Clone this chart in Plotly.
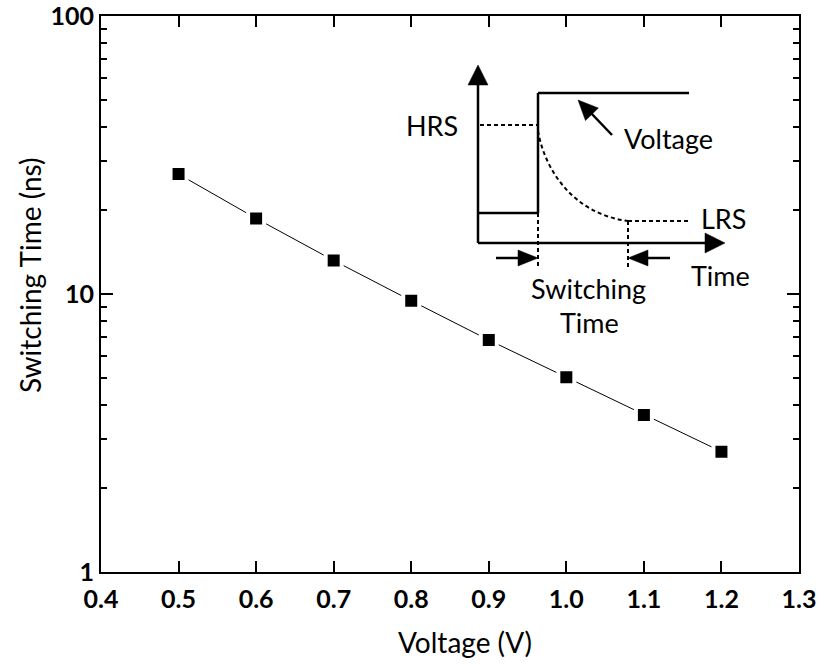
import plotly.graph_objects as go
import math

# ---- data ----
voltage = [0.5, 0.6, 0.7, 0.8, 0.9, 1.0, 1.1, 1.2]
switch_time = [27.0, 18.7, 13.2, 9.46, 6.83, 5.02, 3.67, 2.71]

x_ticks = [0.4, 0.5, 0.6, 0.7, 0.8, 0.9, 1.0, 1.1, 1.2, 1.3]
y_ticks = [1, 10, 100]
y_tick_labels = ["1", "10", "100"]

FONT = "Lato"
fig = go.Figure()

fig.add_trace(go.Scatter(
    x=voltage, y=switch_time, mode="lines+markers",
    line=dict(color="black", width=1),
    marker=dict(symbol="square", size=16, color="black",
                line=dict(color="white", width=4)),
    showlegend=False, hoverinfo="skip"))

# invisible trace to anchor the inset schematic axes
fig.add_trace(go.Scatter(x=[0], y=[0], xaxis="x2", yaxis="y2", mode="markers",
                         marker=dict(opacity=0), showlegend=False, hoverinfo="skip"))

# ---- inset schematic (units: inset pixels, origin at schematic axes) ----
shapes = []
def seg(x0, y0, x1, y1, w=2.5, dash=None):
    d = dict(type="line", xref="x2", yref="y2", x0=x0, y0=y0, x1=x1, y1=y1,
             line=dict(color="black", width=w))
    if dash:
        d["line"]["dash"] = dash
    shapes.append(d)

def head(tx, ty, fx, fy, length=20, half=10):
    dx, dy = tx - fx, ty - fy
    n = math.hypot(dx, dy)
    ux, uy = dx / n, dy / n
    bx, by = tx - ux * length, ty - uy * length
    px, py = -uy * half, ux * half
    path = f"M {tx},{ty} L {bx+px},{by+py} L {bx-px},{by-py} Z"
    shapes.append(dict(type="path", xref="x2", yref="y2", path=path,
                       fillcolor="black", line=dict(color="black", width=0.5)))

DASH = "4px,3px"
# axes of schematic
seg(0, 0, 0, 160)
head(0, 178, 0, 0, 20, 10)
seg(0, 0, 230, 0)
head(247, 0, 0, 0, 20, 10)
# voltage pulse
seg(0, 30, 60, 30)
seg(60, 30, 60, 150)
seg(60, 150, 211, 150)
# resistance (dashed)
seg(2, 118, 60, 118, w=2, dash=DASH)
shapes.append(dict(type="path", xref="x2", yref="y2",
                   path="M 60,112 C 67,72 96,29 150,22",
                   line=dict(color="black", width=2, dash=DASH)))
seg(150, 22, 212, 22, w=2, dash=DASH)
seg(60, 30, 60, -26, w=2, dash=DASH)
seg(150, 22, 150, -26, w=2, dash=DASH)
# switching-time arrows
seg(18, -15, 42, -15, w=2.5)
head(60, -15, 18, -15, 20, 8)
seg(192, -15, 168, -15, w=2.5)
head(150, -15, 192, -15, 20, 8)
# voltage pointer
seg(134, 108, 112, 131, w=2.5)
head(100, 143, 134, 108, 20, 9)

ann_font = dict(family=FONT, size=27, color="black")
annotations = [
    dict(text="HRS", x=-18, y=118, xanchor="right", yanchor="middle"),
    dict(text="Voltage", x=190, y=105, xanchor="center", yanchor="middle"),
    dict(text="LRS", x=221, y=25, xanchor="left", yanchor="middle"),
    dict(text="Time", x=242, y=-32, xanchor="center", yanchor="middle"),
    dict(text="Switching", x=110, y=-45, xanchor="center", yanchor="middle"),
    dict(text="Time", x=111, y=-79, xanchor="center", yanchor="middle"),
]
for a in annotations:
    a.update(xref="x2", yref="y2", showarrow=False, font=ann_font)

# axis titles
annotations.append(dict(text="Voltage (V)", xref="paper", yref="paper",
                        x=0.5215, y=-0.1259, xanchor="center", yanchor="middle",
                        showarrow=False, font=dict(family=FONT, size=28, color="black")))
annotations.append(dict(text="Switching Time (ns)", xref="paper", yref="paper",
                        x=-0.1017, y=0.534, xanchor="center", yanchor="middle",
                        textangle=-90, showarrow=False,
                        font=dict(family=FONT, size=28, color="black")))

fig.update_layout(
    width=826, height=665,
    margin=dict(l=101, r=27, t=16, b=93),
    plot_bgcolor="white", paper_bgcolor="white",
    shapes=shapes, annotations=annotations,
    xaxis=dict(range=[0.4, 1.3], tickvals=x_ticks, tickformat=".1f",
               ticks="inside", ticklen=11, tickwidth=2, tickcolor="black",
               showline=True, linewidth=2, linecolor="black", mirror="ticks",
               showgrid=False, zeroline=False, ticklabelstandoff=4,
               ticklabeloverflow="allow", automargin=False,
               tickfont=dict(family=FONT, size=25, color="black", weight="bold")),
    yaxis=dict(type="log", range=[0, 2], tickvals=y_ticks, ticktext=y_tick_labels,
               ticks="inside", ticklen=12, tickwidth=2, tickcolor="black",
               minor=dict(ticks="inside", ticklen=6, tickwidth=2, tickcolor="black",
                          dtick="D1", showgrid=False),
               showline=True, linewidth=2, linecolor="black", mirror="ticks",
               showgrid=False, zeroline=False, ticklabeloverflow="allow",
               automargin=False,
               tickfont=dict(family=FONT, size=25, color="black", weight="bold")),
    xaxis2=dict(range=[-377, 321], overlaying="x", anchor="y2", visible=False,
                automargin=False),
    yaxis2=dict(range=[-329, 227], overlaying="y", anchor="x2", visible=False,
                automargin=False),
)

fig.write_html("out.html")
